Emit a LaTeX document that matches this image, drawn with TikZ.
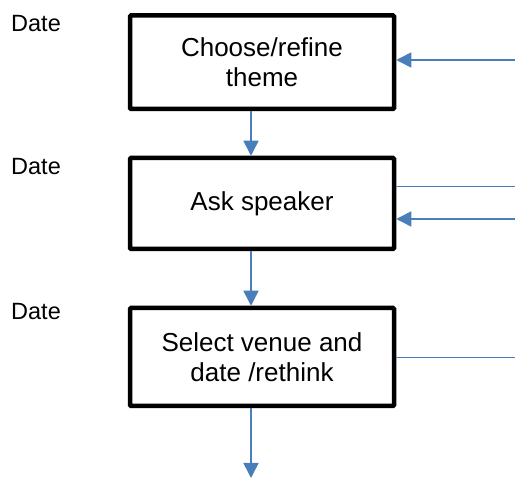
\documentclass[tikz,border=0pt]{standalone}
\usepackage{fontspec}
\setmainfont{Liberation Sans}
\usetikzlibrary{arrows.meta}
\definecolor{conblue}{HTML}{4A7EBB}
\begin{document}
\begin{tikzpicture}[x=1pt,y=-1pt,
  stepbox/.style={draw=black,line width=4.5pt,rounded corners=1pt,fill=white,
    minimum width=264pt,align=center,inner sep=0pt,
    font=\fontsize{26}{30}\selectfont},
  datelbl/.style={anchor=base west,inner sep=0pt,font=\fontsize{23.5}{28}\selectfont},
  conn/.style={draw=conblue,line width=1.5pt},
  arr/.style={conn,-{Triangle[length=15pt,width=15pt]}}]
\useasboundingbox (0,0) rectangle (515,478);
\node[stepbox,minimum height=93.5pt] (b1) at (262,62.2) {Choose/refine\\theme};
\node[stepbox,minimum height=91pt] (b2) at (262,203.5) {Ask speaker};
\node[stepbox,minimum height=98pt] (b3) at (262,357) {Select venue and\\date /rethink};
\node[datelbl] (d1) at (11,31.7) {Date};
\node[datelbl] (d2) at (11,175) {Date};
\node[datelbl] (d3) at (11,320) {Date};
\coordinate (r1) at (515,60);
\coordinate (r2a) at (515,186.7);
\coordinate (r2b) at (515,219);
\coordinate (r3) at (515,357.7);
\coordinate (bot) at (251,478);
\draw[arr] (r1) -- (b1.east |- r1);
\draw[conn] (b2.east |- r2a) -- (r2a);
\draw[arr] (r2b) -- (b2.east |- r2b);
\draw[conn] (b3.east |- r3) -- (r3);
\draw[arr] (b1.south -| bot) -- (b2.north -| bot);
\draw[arr] (b2.south -| bot) -- (b3.north -| bot);
\draw[arr] (b3.south -| bot) -- (bot);
\end{tikzpicture}
\end{document}
